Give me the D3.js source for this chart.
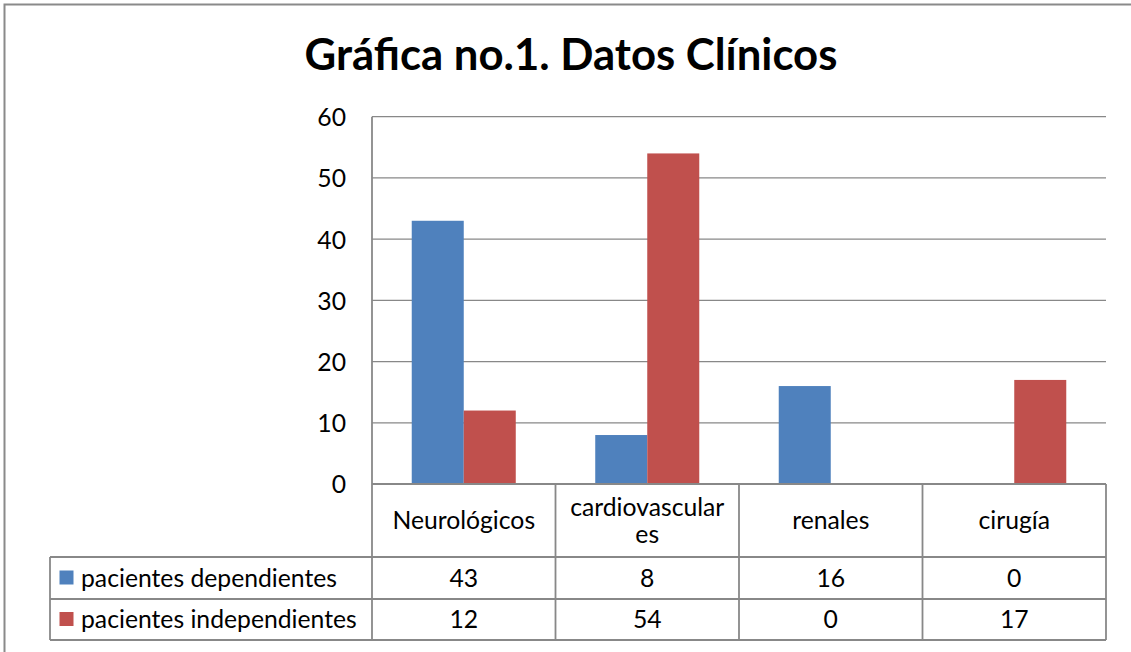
<!DOCTYPE html>
<html>
<head>
<meta charset="utf-8">
<script src="https://cdn.jsdelivr.net/npm/d3@7"></script>
<style>
  html, body { margin: 0; padding: 0; background: #fff; }
  svg { display: block; }
  text { font-family: Lato, "Open Sans", sans-serif; fill: #000; }
</style>
</head>
<body>
<svg id="chart" width="1131" height="652"></svg>
<script>
const title = "Gráfica no.1. Datos Clínicos";
const categories = ["Neurológicos", "cardiovasculares", "renales", "cirugía"];
const categoryLines = [["Neurológicos"], ["cardiovascular", "es"], ["renales"], ["cirugía"]];
const seriesNames = ["pacientes dependientes", "pacientes independientes"];
const dependientes = [43, 8, 16, 0];
const independientes = [12, 54, 0, 17];
const yTicks = [0, 10, 20, 30, 40, 50, 60];
const colors = ["#4F81BD", "#C0504D"];

const seriesValues = [dependientes, independientes];

const svg = d3.select("#chart");
const W = 1131, H = 652;
const gridColor = "#888888";

// outer frame
svg.append("rect").attr("x", 4.5).attr("y", 4.5).attr("width", W + 20).attr("height", H + 20)
  .attr("fill", "#fff").attr("stroke", "#8a8a8a").attr("stroke-width", 2);

const plot = { left: 372, right: 1106, top: 116.7, bottom: 484 };
const table = { legendLeft: 50, headerBottom: 557, row1Bottom: 599, row2Bottom: 640 };

const x = d3.scaleBand().domain(categories).range([plot.left, plot.right]).paddingInner(0).paddingOuter(0);
const xInner = d3.scaleBand().domain(seriesNames).range([0, x.bandwidth()]).paddingInner(0).paddingOuter(0.764);
const y = d3.scaleLinear().domain([0, 60]).range([plot.bottom, plot.top]);

function fitSize(textSel, targetWidth) {
  const node = textSel.node();
  const w = node.getComputedTextLength();
  const fs = parseFloat(textSel.attr("font-size"));
  textSel.attr("font-size", fs * targetWidth / w);
  return fs * targetWidth / w;
}

// title
const t = svg.append("text").attr("x", 571).attr("y", 70).attr("text-anchor", "middle")
  .attr("font-weight", "bold").attr("font-size", 40).text(title);
fitSize(t, 533);

const probe = svg.append("text").attr("font-size", 20).text(seriesNames[1]);
const bodySize = fitSize(probe, 276);
probe.remove();

// gridlines
svg.append("g").selectAll("line").data(yTicks.filter(d => d > 0)).join("line")
  .attr("x1", plot.left).attr("x2", plot.right)
  .attr("y1", d => y(d)).attr("y2", d => y(d))
  .attr("stroke", gridColor).attr("stroke-width", 1.2);

// y axis
const yAxis = d3.axisLeft(y).tickValues(yTicks).tickSize(0).tickPadding(26);
const ga = svg.append("g").attr("transform", `translate(${plot.left},0)`).call(yAxis);
ga.select(".domain").remove();
ga.selectAll("text").attr("font-size", bodySize).attr("font-family", "Lato, 'Open Sans', sans-serif")
  .attr("fill", "#000").attr("dy", "0.36em");

// bars
const groups = svg.append("g").selectAll("g").data(categories).join("g")
  .attr("transform", d => `translate(${x(d)},0)`);
groups.selectAll("rect").data((d, i) => seriesNames.map((s, j) => ({ s, j, v: seriesValues[j][i] })))
  .join("rect")
  .attr("x", d => xInner(d.s)).attr("width", xInner.bandwidth())
  .attr("y", d => y(d.v)).attr("height", d => plot.bottom - y(d.v))
  .attr("fill", d => colors[d.j]);

// table lines
const tl = svg.append("g").attr("stroke", gridColor).attr("stroke-width", 1.8).attr("fill", "none");
tl.append("line").attr("x1", plot.left).attr("x2", plot.right).attr("y1", plot.bottom).attr("y2", plot.bottom);
const bounds = categories.map(c => x(c)).concat([plot.right]);
bounds.forEach((bx, i) => {
  tl.append("line").attr("x1", bx).attr("x2", bx)
    .attr("y1", i === 0 ? plot.top : plot.bottom).attr("y2", table.row2Bottom);
});
[table.headerBottom, table.row1Bottom, table.row2Bottom].forEach(yy => {
  tl.append("line").attr("x1", table.legendLeft).attr("x2", plot.right).attr("y1", yy).attr("y2", yy);
});
tl.append("line").attr("x1", table.legendLeft).attr("x2", table.legendLeft)
  .attr("y1", table.headerBottom).attr("y2", table.row2Bottom);

// category labels
const lineH = 27;
categories.forEach((c, i) => {
  const lines = categoryLines[i];
  const cx = x(c) + x.bandwidth() / 2;
  const cy = (plot.bottom + table.headerBottom) / 2;
  const startY = cy - (lines.length - 1) * lineH / 2;
  lines.forEach((ln, k) => {
    svg.append("text").attr("x", cx).attr("y", startY + k * lineH).attr("dy", "0.36em")
      .attr("text-anchor", "middle").attr("font-size", bodySize).text(ln);
  });
});

// rows
const rowMids = [(table.headerBottom + table.row1Bottom) / 2, (table.row1Bottom + table.row2Bottom) / 2];
seriesNames.forEach((s, j) => {
  const cy = rowMids[j];
  svg.append("rect").attr("x", 59.5).attr("y", cy - 7.5).attr("width", 14).attr("height", 14).attr("fill", colors[j]);
  svg.append("text").attr("x", 81).attr("y", cy).attr("dy", "0.36em").attr("font-size", bodySize).text(s);
  categories.forEach((c, i) => {
    svg.append("text").attr("x", x(c) + x.bandwidth() / 2).attr("y", cy).attr("dy", "0.36em")
      .attr("text-anchor", "middle").attr("font-size", bodySize).text(seriesValues[j][i]);
  });
});
</script>
</body>
</html>
